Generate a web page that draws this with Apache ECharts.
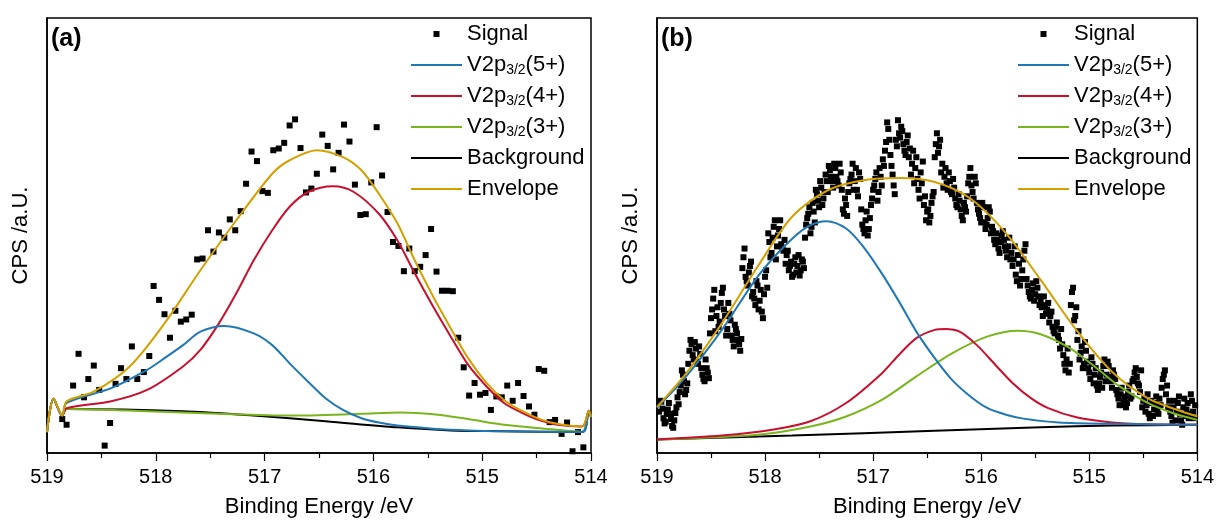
<!DOCTYPE html>
<html>
<head>
<meta charset="utf-8">
<title>V 2p3/2 XPS spectra</title>
<script src="https://cdn.jsdelivr.net/npm/echarts@6/dist/echarts.min.js"></script>
<style>
  html, body { margin: 0; padding: 0; background: #fff; }
  #chart { width: 1217px; height: 523px; }
</style>
</head>
<body>
<div id="chart"></div>
<script>
// Binding energy (eV) / intensity (arbitrary units, 0-100 of the plotted range)

// ---- Panel (a) ----
const signalA = [
  [518.86,7.8],[518.82,6.5],[518.76,15.5],[518.71,22.8],[518.66,12.8],[518.62,17.0],[518.57,20.1],[518.52,14.5],
  [518.47,1.7],[518.42,6.9],[518.37,15.9],[518.32,19.5],[518.27,17.0],[518.22,24.5],[518.17,17.0],[518.11,18.6],
  [518.06,22.3],[518.02,38.4],[517.97,35.2],[517.92,31.9],[517.87,26.5],[517.82,32.7],[517.77,30.2],[517.72,30.7],
  [517.67,31.8],[517.62,44.5],[517.57,44.7],[517.52,51.2],[517.47,46.3],[517.42,50.7],[517.37,49.5],[517.32,53.7],
  [517.27,51.2],[517.22,55.6],[517.17,61.9],[517.12,69.3],[517.07,67.1],[517.02,60.2],[516.97,59.8],[516.92,69.6],
  [516.87,70.0],[516.82,71.3],[516.77,75.3],[516.72,76.7],[516.67,70.1],[516.62,59.9],[516.57,60.8],[516.52,64.2],
  [516.47,73.2],[516.42,70.6],[516.37,65.2],[516.32,69.0],[516.27,75.5],[516.22,71.6],[516.17,61.7],[516.12,54.7],
  [516.07,54.9],[516.02,62.2],[515.97,74.9],[515.92,63.8],[515.87,55.4],[515.82,48.5],[515.77,47.6],[515.72,41.8],
  [515.67,47.0],[515.62,41.8],[515.57,42.8],[515.52,45.5],[515.47,51.5],[515.42,41.7],[515.37,37.3],[515.32,37.3],
  [515.27,37.2],[515.22,26.5],[515.17,19.7],[515.12,13.2],[515.07,16.1],[515.02,13.4],[514.97,13.8],[514.92,9.9],
  [514.87,13.0],[514.82,12.8],[514.77,15.5],[514.72,12.0],[514.67,16.1],[514.62,13.1],[514.57,10.7],[514.52,8.8],
  [514.48,19.3],[514.43,18.9],[514.38,7.1],[514.33,7.6],[514.27,4.4],[514.22,7.0],[514.17,0.4],[514.12,4.8],[514.07,1.3]
];
const peak5A = [
  [519.00,4.8],[518.94,12.5],[518.86,8.6],[518.82,11.5],[518.41,14.9],[518.08,19.1],[517.92,21.8],[517.75,24.8],
  [517.59,27.9],[517.37,29.2],[517.10,27.5],[516.93,24.8],[516.77,20.6],[516.60,16.4],[516.44,12.6],[516.28,9.9],
  [516.11,8.0],[515.95,7.0],[515.78,6.3],[515.45,5.6],[515.13,5.2],[514.80,5.0],[514.08,4.8],[514.02,9.7],[514.00,8.3]
];
const peak4A = [
  [519.00,4.8],[518.94,12.5],[518.86,8.6],[518.82,10.3],[518.41,11.9],[518.08,14.5],[517.75,19.9],[517.59,23.7],
  [517.42,29.8],[517.26,36.7],[517.10,44.3],[516.93,51.2],[516.77,56.6],[516.60,60.0],[516.37,61.3],[516.18,60.0],
  [515.95,55.0],[515.78,48.9],[515.62,41.3],[515.45,33.6],[515.29,26.8],[515.13,20.3],[514.96,15.3],[514.80,11.5],
  [514.63,9.2],[514.47,7.5],[514.31,6.5],[514.08,6.1],[514.02,9.7],[514.00,8.3]
];
const peak3A = [
  [519.00,4.8],[518.94,12.5],[518.86,8.6],[518.82,10.1],[518.08,9.6],[517.42,9.0],[516.77,8.6],[516.11,9.0],
  [515.75,9.3],[515.45,8.9],[515.13,7.8],[514.80,6.5],[514.47,5.7],[514.08,4.9],[514.02,9.7],[514.00,8.3]
];
const backgroundA = [
  [519.00,4.8],[518.94,12.5],[518.86,8.6],[518.82,10.1],[517.75,9.6],[517.10,8.6],[516.44,7.3],[515.78,5.9],
  [515.29,5.2],[514.80,5.0],[514.08,4.8],[514.02,9.7],[514.00,8.3]
];
const envelopeA = [
  [519.00,4.8],[518.94,12.5],[518.86,8.6],[518.82,11.9],[518.57,14.1],[518.24,19.9],[517.92,29.8],[517.59,42.0],
  [517.26,53.5],[516.93,64.2],[516.77,67.3],[516.52,69.6],[516.28,68.0],[516.11,65.0],[515.95,59.6],[515.78,52.8],
  [515.62,44.3],[515.45,35.9],[515.29,28.7],[515.13,21.8],[514.96,16.1],[514.80,12.2],[514.63,9.6],[514.47,7.8],
  [514.31,6.7],[514.08,6.1],[514.02,9.7],[514.00,8.3]
];

// ---- Panel (b) ----
const signalB = [
  // even-hundredth channels
  [518.98,9.5],[518.96,11.8],[518.94,8.0],[518.92,7.2],[518.90,10.0],[518.88,9.0],[518.86,6.2],[518.84,7.5],
  [518.82,10.5],[518.80,11.2],[518.78,15.5],[518.76,18.0],[518.74,13.5],[518.72,16.0],[518.70,23.5],[518.68,25.0],
  [518.66,21.5],[518.64,24.0],[518.62,20.5],[518.60,22.8],[518.58,18.0],[518.56,16.5],[518.54,19.5],[518.52,17.2],
  [518.50,31.0],[518.48,35.5],[518.46,28.0],[518.44,33.5],[518.42,30.2],[518.40,36.8],[518.38,33.0],[518.36,27.0],
  [518.34,34.5],[518.32,30.5],[518.30,26.0],[518.28,29.5],[518.26,27.5],[518.24,25.0],[518.22,26.2],[518.20,45.0],
  [518.18,40.5],[518.16,38.5],[518.14,43.0],[518.12,36.0],[518.10,35.5],[518.08,39.5],[518.06,33.0],[518.04,37.5],
  [518.02,31.0],[518.00,40.5],[517.98,38.0],[517.96,48.5],[517.94,46.0],[517.92,52.0],[517.90,44.5],[517.88,50.0],
  [517.86,53.5],[517.84,47.0],[517.82,49.0],[517.80,45.5],[517.78,42.0],[517.76,44.0],[517.74,41.0],[517.72,45.0],
  [517.70,43.0],[517.68,40.8],[517.66,44.5],[517.64,42.5],[517.62,52.5],[517.60,55.0],[517.58,50.5],[517.56,57.5],
  [517.54,53.0],[517.52,59.5],[517.50,56.5],[517.48,61.0],[517.46,58.5],[517.44,64.0],[517.42,60.0],[517.40,65.0],
  [517.38,62.5],[517.36,66.5],[517.34,63.5],[517.32,61.5],[517.30,64.5],[517.28,56.0],[517.26,58.5],[517.24,54.5],
  [517.22,62.0],[517.20,64.0],[517.18,60.5],[517.16,65.5],[517.14,59.0],[517.12,63.0],[517.10,52.5],[517.08,50.5],
  [517.06,55.5],[517.04,51.5],[517.02,57.0],[517.00,60.5],[516.98,63.0],[516.96,58.0],[516.94,65.5],[516.92,61.5],
  [516.90,66.0],[516.88,71.5],[516.86,74.5],[516.84,68.5],[516.82,64.0],[516.80,59.5],[516.78,70.5],[516.76,73.5],
  [516.74,75.0],[516.72,71.0],[516.70,68.5],[516.68,73.0],[516.66,70.0],[516.64,66.5],[516.62,62.0],[516.60,68.0],
  [516.58,60.5],[516.56,64.5],[516.54,67.0],[516.52,59.0],[516.50,55.5],[516.48,53.0],[516.46,57.5],[516.44,60.0],
  [516.42,71.0],[516.40,69.0],[516.38,72.0],[516.36,66.5],[516.34,63.5],[516.32,62.0],[516.30,64.5],[516.28,60.0],
  [516.26,63.0],[516.24,58.5],[516.22,56.5],[516.20,58.0],[516.18,54.5],[516.16,57.5],[516.14,55.5],[516.12,62.0],
  [516.10,65.5],[516.08,60.0],[516.06,63.5],[516.04,57.5],[516.02,55.0],[516.00,53.0],[515.98,56.5],[515.96,51.5],
  [515.94,54.0],[515.92,55.5],[515.90,52.0],[515.88,49.0],[515.86,50.5],[515.84,47.0],[515.82,48.5],[515.80,51.0],
  [515.78,47.5],[515.76,45.0],[515.74,49.5],[515.72,46.0],[515.70,44.5],[515.68,41.0],[515.66,45.5],[515.64,38.5],
  [515.62,42.0],[515.60,46.5],[515.58,40.0],[515.56,37.0],[515.54,35.5],[515.52,39.0],[515.50,36.5],[515.48,38.0],
  [515.46,34.0],[515.44,33.5],[515.42,36.0],[515.40,32.0],[515.38,34.5],[515.36,31.5],[515.34,29.0],[515.32,27.5],
  [515.30,30.0],[515.28,26.0],[515.26,28.5],[515.24,22.5],[515.22,19.0],[515.20,24.0],[515.18,20.5],[515.16,37.0],
  [515.14,30.5],[515.12,33.5],[515.10,28.0],[515.08,23.0],[515.06,19.5],[515.04,25.5],[515.02,21.0],[515.00,18.5],
  [514.98,22.0],[514.96,16.0],[514.94,19.5],[514.92,14.5],[514.90,17.5],[514.88,15.0],[514.86,21.5],[514.84,18.0],
  [514.82,20.0],[514.80,16.5],[514.78,19.0],[514.76,17.0],[514.74,13.5],[514.72,11.0],[514.70,15.0],[514.68,12.0],
  [514.66,10.5],[514.64,14.0],[514.62,12.5],[514.60,16.5],[514.58,18.5],[514.56,17.5],[514.54,15.5],[514.52,19.0],
  [514.50,12.0],[514.48,9.5],[514.46,13.5],[514.44,8.0],[514.42,11.5],[514.40,10.0],[514.38,13.0],[514.36,9.0],
  [514.34,11.0],[514.32,17.0],[514.30,19.0],[514.28,15.5],[514.26,12.0],[514.24,8.5],[514.22,10.5],[514.20,7.5],
  [514.18,11.5],[514.16,9.0],[514.14,6.5],[514.12,12.5],[514.10,10.0],[514.08,8.0],[514.06,13.5],[514.04,9.5],
  [514.02,11.0],
  // odd-hundredth channels
  [518.97,12.0],[518.95,10.2],[518.93,6.8],[518.91,9.0],[518.89,11.5],[518.87,7.8],[518.85,5.8],[518.83,9.2],
  [518.81,12.8],[518.79,14.0],[518.77,19.0],[518.75,16.5],[518.73,14.5],[518.71,20.5],[518.69,26.0],[518.67,22.5],
  [518.65,25.5],[518.63,21.0],[518.61,24.5],[518.59,19.5],[518.57,17.0],[518.55,21.5],[518.53,18.5],[518.51,27.5],
  [518.49,33.0],[518.47,37.5],[518.45,31.5],[518.43,29.0],[518.41,34.5],[518.39,38.0],[518.37,31.5],[518.35,28.5],
  [518.33,32.0],[518.31,27.0],[518.29,24.5],[518.27,28.5],[518.25,26.0],[518.23,23.5],[518.21,42.5],[518.19,47.0],
  [518.17,39.5],[518.15,41.5],[518.13,44.0],[518.11,37.0],[518.09,34.0],[518.07,38.5],[518.05,35.0],[518.03,32.5],
  [518.01,36.5],[517.99,42.0],[517.97,50.5],[517.95,45.0],[517.93,49.5],[517.91,53.5],[517.89,47.5],[517.87,51.5],
  [517.85,48.0],[517.83,46.5],[517.81,43.5],[517.79,46.5],[517.77,43.0],[517.75,40.5],[517.73,43.5],[517.71,41.5],
  [517.69,45.5],[517.67,42.0],[517.65,44.0],[517.63,49.5],[517.61,54.0],[517.59,56.5],[517.57,52.0],[517.55,55.5],
  [517.53,60.5],[517.51,58.0],[517.49,62.5],[517.47,57.0],[517.45,60.0],[517.43,62.5],[517.41,66.0],[517.39,63.5],
  [517.37,61.0],[517.35,65.5],[517.33,62.5],[517.31,66.5],[517.29,60.5],[517.27,55.0],[517.25,57.0],[517.23,60.0],
  [517.21,63.0],[517.19,66.5],[517.17,62.5],[517.15,60.5],[517.13,64.5],[517.11,56.0],[517.09,51.5],[517.07,53.5],
  [517.05,50.0],[517.03,54.0],[517.01,58.5],[516.99,61.5],[516.97,64.5],[516.95,60.0],[516.93,63.5],[516.91,67.5],
  [516.89,69.5],[516.87,76.0],[516.85,72.0],[516.83,66.0],[516.81,61.5],[516.79,72.0],[516.77,76.5],[516.75,72.5],
  [516.73,74.0],[516.71,69.5],[516.69,71.5],[516.67,68.0],[516.65,64.0],[516.63,69.5],[516.61,65.5],[516.59,63.0],
  [516.57,58.5],[516.55,62.0],[516.53,57.0],[516.51,53.5],[516.49,56.0],[516.47,54.5],[516.45,59.0],[516.43,68.0],
  [516.41,73.5],[516.39,70.5],[516.37,64.5],[516.35,61.0],[516.33,65.5],[516.31,60.5],[516.29,62.5],[516.27,59.5],
  [516.25,61.0],[516.23,57.0],[516.21,59.5],[516.19,56.0],[516.17,53.5],[516.15,56.5],[516.13,59.0],[516.11,63.5],
  [516.09,61.5],[516.07,58.5],[516.05,62.0],[516.03,56.0],[516.01,54.0],[515.99,57.5],[515.97,53.0],[515.95,52.5],
  [515.93,56.5],[515.91,50.5],[515.89,51.0],[515.87,48.0],[515.85,49.0],[515.83,46.0],[515.81,50.0],[515.79,49.0],
  [515.77,46.5],[515.75,47.5],[515.73,44.5],[515.71,43.0],[515.69,47.5],[515.67,39.5],[515.65,43.5],[515.63,40.0],
  [515.61,44.5],[515.59,48.0],[515.57,38.5],[515.55,36.0],[515.53,37.5],[515.51,35.0],[515.49,39.5],[515.47,36.0],
  [515.45,35.0],[515.43,31.5],[515.41,34.0],[515.39,33.0],[515.37,30.0],[515.35,32.5],[515.33,28.0],[515.31,29.0],
  [515.29,27.0],[515.27,24.0],[515.25,25.0],[515.23,20.5],[515.21,21.5],[515.19,18.5],[515.17,34.0],[515.15,38.0],
  [515.13,31.5],[515.11,26.0],[515.09,21.5],[515.07,24.5],[515.05,20.5],[515.03,23.5],[515.01,19.5],[514.99,17.0],
  [514.97,20.5],[514.95,18.0],[514.93,15.5],[514.91,16.0],[514.89,18.5],[514.87,20.0],[514.85,16.5],[514.83,21.0],
  [514.81,17.5],[514.79,15.0],[514.77,18.0],[514.75,14.5],[514.73,12.5],[514.71,13.5],[514.69,11.0],[514.67,13.0],
  [514.65,11.5],[514.63,15.5],[514.61,13.0],[514.59,17.0],[514.57,19.5],[514.55,16.0],[514.53,14.0],[514.51,10.5],
  [514.49,12.5],[514.47,11.0],[514.45,9.0],[514.43,12.0],[514.41,8.5],[514.39,11.5],[514.37,10.0],[514.35,12.5],
  [514.33,15.0],[514.31,18.0],[514.29,13.5],[514.27,10.5],[514.25,9.5],[514.23,7.0],[514.21,12.0],[514.19,9.5],
  [514.17,13.0],[514.15,7.5],[514.13,10.5],[514.11,8.5],[514.09,11.5],[514.07,9.0],[514.05,12.0],[514.03,8.0]
];
const peak5B = [
  [519.00,10.4],[518.73,17.6],[518.40,28.3],[518.07,40.5],[517.81,47.8],[517.61,52.0],[517.43,53.3],[517.25,51.6],
  [517.09,47.4],[516.92,41.3],[516.76,34.8],[516.60,27.9],[516.43,21.8],[516.27,16.8],[516.10,13.0],[515.94,10.3],
  [515.77,8.8],[515.61,7.9],[515.28,7.0],[514.79,6.7],[514.00,6.5]
];
const peak4B = [
  [519.00,3.1],[518.40,4.0],[517.92,5.4],[517.58,7.3],[517.25,11.5],[516.92,18.3],[516.76,22.6],[516.60,26.4],
  [516.43,28.3],[516.33,28.5],[516.20,27.9],[516.04,24.8],[515.87,20.3],[515.71,16.1],[515.54,12.6],[515.38,10.3],
  [515.12,8.2],[514.79,7.0],[514.46,6.6],[514.00,6.5]
];
const peak3B = [
  [519.00,3.1],[518.07,4.2],[517.58,6.1],[517.25,8.4],[516.92,12.2],[516.60,17.6],[516.27,22.9],[515.94,26.8],
  [515.66,28.1],[515.45,27.3],[515.18,24.1],[514.95,19.9],[514.72,15.3],[514.46,11.5],[514.23,9.2],[514.00,7.6]
];
const backgroundB = [
  [519.00,3.1],[517.75,4.0],[516.43,5.1],[515.45,5.9],[514.79,6.3],[514.00,6.5]
];
const envelopeB = [
  [519.00,10.6],[518.73,18.3],[518.40,29.8],[518.07,42.8],[517.75,54.3],[517.42,60.4],[517.09,62.7],[516.76,63.2],
  [516.43,62.3],[516.10,58.5],[515.77,50.5],[515.45,39.8],[515.12,28.3],[514.79,18.7],[514.46,12.6],[514.23,10.3],
  [514.00,8.4]
];

// ---- Shared styling ----
const FONT = "'Liberation Sans', Arial, Helvetica, sans-serif";
const COLORS = {
  signal: '#000000',
  p5: '#1f77b4',
  p4: '#c8102e',
  p3: '#7ab51d',
  bg: '#000000',
  env: '#d4a000'
};
const LINE_ICON = 'path://M0 0H51V2H0Z';
const SQUARE_ICON = 'path://M0 0H10V10H0Z';

function lineSeries(name, data, color, idx) {
  return {
    name, type: 'line', data, xAxisIndex: idx, yAxisIndex: idx,
    symbol: 'none', smooth: 0.3, clip: true,
    lineStyle: { color, width: 2 }, itemStyle: { color },
    emphasis: { disabled: true }
  };
}
function scatterSeries(data, idx) {
  return {
    name: 'Signal', type: 'scatter', data, xAxisIndex: idx, yAxisIndex: idx,
    symbol: 'rect', symbolSize: 6, itemStyle: { color: COLORS.signal, opacity: 1 },
    emphasis: { disabled: true }
  };
}
function panelSeries(sig, p5, p4, p3, bg, env, idx) {
  return [
    scatterSeries(sig, idx),
    lineSeries('Background', bg, COLORS.bg, idx),
    lineSeries('V2p3/2(3+)', p3, COLORS.p3, idx),
    lineSeries('V2p3/2(4+)', p4, COLORS.p4, idx),
    lineSeries('V2p3/2(5+)', p5, COLORS.p5, idx),
    lineSeries('Envelope', env, COLORS.env, idx)
  ];
}
function xAxis(idx) {
  return {
    gridIndex: idx, type: 'value', min: 514, max: 519, interval: 1, inverse: true,
    name: 'Binding Energy /eV', nameLocation: 'middle', nameGap: 43,
    nameTextStyle: { fontFamily: FONT, fontSize: 22, color: '#000' },
    axisLine: { lineStyle: { color: '#000', width: 1.5 } },
    axisTick: { length: 8, lineStyle: { color: '#000', width: 1.2 } },
    minorTick: { show: true, splitNumber: 2, length: 5, lineStyle: { color: '#000', width: 1.2 } },
    axisLabel: { fontFamily: FONT, fontSize: 20, color: '#000', margin: 14 },
    splitLine: { show: false }
  };
}
function yAxis(idx) {
  return {
    gridIndex: idx, type: 'value', min: 0, max: 100,
    name: 'CPS /a.U.', nameLocation: 'middle', nameGap: 15,
    nameTextStyle: { fontFamily: FONT, fontSize: 22, color: '#000' },
    axisLine: { show: true, lineStyle: { color: '#000', width: 1.5 } },
    axisTick: { show: false }, axisLabel: { show: false }, splitLine: { show: false }
  };
}
function legend(left) {
  const lineItem = name => ({ name, icon: LINE_ICON });
  return {
    orient: 'vertical', left, top: 22, padding: 0, itemWidth: 51, itemHeight: 6, itemGap: 7,
    symbolKeepAspect: true, selectedMode: false,
    data: [
      { name: 'Signal', icon: SQUARE_ICON },
      lineItem('V2p3/2(5+)'), lineItem('V2p3/2(4+)'), lineItem('V2p3/2(3+)'),
      lineItem('Background'), lineItem('Envelope')
    ],
    formatter: n => n.replace('3/2', '{s|3/2}'),
    textStyle: {
      fontFamily: FONT, fontSize: 22, color: '#000', lineHeight: 24,
      rich: { s: { fontFamily: FONT, fontSize: 14, lineHeight: 14, verticalAlign: 'bottom', color: '#000' } }
    }
  };
}

const chart = echarts.init(document.getElementById('chart'), null, { renderer: 'canvas' });
chart.setOption({
  animation: false,
  backgroundColor: '#fff',
  title: [
    { text: '(a)', left: 51, top: 27, padding: 0, textStyle: { fontFamily: FONT, fontSize: 25, fontWeight: 'bold', color: '#000' } },
    { text: '(b)', left: 661, top: 27, padding: 0, textStyle: { fontFamily: FONT, fontSize: 25, fontWeight: 'bold', color: '#000' } }
  ],
  grid: [
    { left: 47, top: 18, width: 544, height: 435, show: true, borderColor: '#000', borderWidth: 1.5, backgroundColor: 'transparent' },
    { left: 657, top: 18, width: 544, height: 435, show: true, borderColor: '#000', borderWidth: 1.5, backgroundColor: 'transparent' }
  ],
  xAxis: [xAxis(0), xAxis(1)],
  yAxis: [yAxis(0), yAxis(1)],
  legend: [legend(411), legend(1018)],
  series: [
    ...panelSeries(signalA, peak5A, peak4A, peak3A, backgroundA, envelopeA, 0),
    ...panelSeries(signalB, peak5B, peak4B, peak3B, backgroundB, envelopeB, 1)
  ]
});
</script>
</body>
</html>
